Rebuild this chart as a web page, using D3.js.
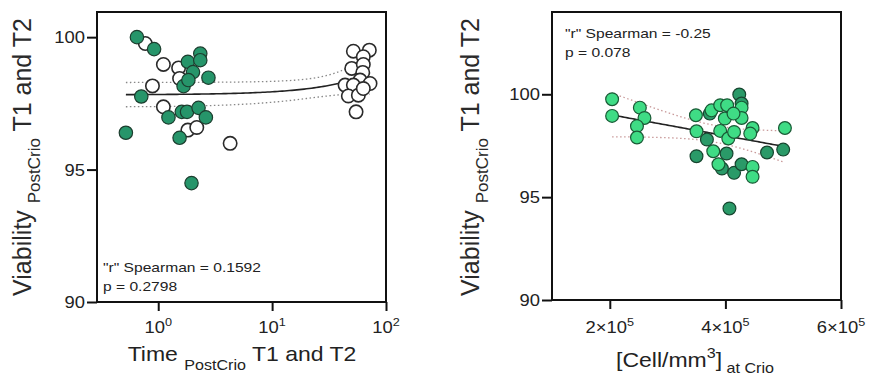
<!DOCTYPE html>
<html>
<head>
<meta charset="utf-8">
<script src="https://cdn.jsdelivr.net/npm/d3@7"></script>
<style>
  body { margin: 0; background: #fff; }
  svg { display: block; font-family: "Liberation Sans", Arial, sans-serif; }
</style>
</head>
<body>
<svg id="chart" width="871" height="380"></svg>
<script>
// ---- left panel: time post-crio (log) vs viability ----
const filledTime = [0.65, 0.92, 0.71, 0.52, 1.23, 1.54, 1.96, 1.82, 2.02, 1.67, 2.34, 2.34, 2.76, 1.61, 1.79, 2.26, 2.62, 1.84];
const filledViab = [100.0, 99.55, 97.76, 96.39, 96.97, 96.2, 94.49, 99.07, 98.68, 98.15, 99.38, 99.13, 98.47, 97.18, 97.18, 97.33, 96.97, 98.38];
const openTime = [0.77, 1.11, 0.89, 1.11, 1.51, 1.54, 1.82, 2.18, 4.28,
  51.7, 71.4, 63.2, 50.0, 63.2, 62.5, 59.2, 72.4, 43.7, 51.7, 46.7, 57.2, 63.2, 54.6];
const openViab = [99.76, 98.97, 98.16, 97.37, 98.84, 98.44, 96.49, 96.59, 95.99,
  99.47, 99.51, 99.26, 98.82, 98.97, 98.67, 98.38, 98.25, 98.19, 98.19, 97.78, 97.81, 98.06, 97.18];

// ---- right panel: cells/mm3 at crio vs viability ----
const lightCells = [2.04e5, 2.04e5, 2.52e5, 2.6e5, 2.47e5, 2.47e5, 3.49e5, 3.5e5, 3.79e5, 3.76e5, 3.91e5, 4.03e5,
  3.91e5, 3.99e5, 3.88e5, 4.05e5, 4.28e5, 4.28e5, 4.15e5, 4.47e5, 4.47e5, 4.47e5, 5.03e5, 4.43e5, 4.14e5];
const lightViab = [99.76, 98.95, 99.35, 98.85, 98.45, 97.9, 98.98, 98.2, 97.23, 99.22, 99.47, 99.47,
  98.22, 98.82, 96.6, 97.85, 99.35, 98.85, 98.17, 98.36, 96.47, 95.99, 98.36, 98.09, 99.06];
const darkCells = [3.5e5, 3.68e5, 3.94e5, 4.02e5, 4.07e5, 4.24e5, 4.28e5, 4.15e5, 4.28e5, 4.72e5, 5.0e5, 3.73e5];
const darkViab = [96.99, 97.8, 96.39, 97.12, 94.45, 99.99, 99.55, 96.18, 96.6, 97.17, 97.31, 99.06];

const yTicks = [90, 95, 100];
const timeTicks = [1, 10, 100];
const timeTickExp = ["0", "1", "2"];
const cellTicks = [2e5, 4e5, 6e5];
const cellTickMant = ["2", "4", "6"];
const statsLeft = ['"r" Spearman = 0.1592', "p = 0.2798"];
const statsRight = ['"r" Spearman = -0.25', "p = 0.078"];

const tCrit = 2.02;
const svg = d3.select("#chart");

function linFit(xs, ys) {
  const n = xs.length, mx = d3.mean(xs), my = d3.mean(ys);
  let sxx = 0, sxy = 0;
  xs.forEach((x, i) => { sxx += (x - mx) ** 2; sxy += (x - mx) * (ys[i] - my); });
  const b = sxy / sxx, a = my - b * mx;
  let sse = 0;
  xs.forEach((x, i) => { sse += (ys[i] - a - b * x) ** 2; });
  const s = Math.sqrt(sse / (n - 2));
  return {
    f: x => a + b * x,
    half: x => tCrit * s * Math.sqrt(1 / n + (x - mx) ** 2 / sxx)
  };
}

function hText(g, x, y, anchor, size, sx) {
  return g.append("text")
    .attr("transform", `translate(${x},${y}) scale(${sx},1)`)
    .attr("text-anchor", anchor)
    .attr("font-size", size)
    .attr("fill", "#222");
}

function panel(opt) {
  const g = svg.append("g");
  const x = opt.x, y = opt.y;
  const [x0, x1] = x.range(), [y0, y1] = y.range();

  // ticks
  g.append("g").attr("transform", `translate(${x0},0)`)
    .call(d3.axisLeft(y).tickValues(yTicks).tickSize(10).tickFormat(""))
    .call(a => a.select(".domain").remove())
    .selectAll("line").attr("stroke", "#111").attr("stroke-width", 2);
  g.append("g").attr("transform", `translate(0,${y0})`)
    .call(d3.axisBottom(x).tickValues(opt.xTicks).tickSize(9).tickFormat(""))
    .call(a => a.select(".domain").remove())
    .selectAll("line").attr("stroke", "#111").attr("stroke-width", 2);

  // frame
  g.append("rect").attr("x", x0).attr("y", y1)
    .attr("width", x1 - x0).attr("height", y0 - y1)
    .attr("fill", "none").attr("stroke", "#111").attr("stroke-width", 2);

  // y tick labels
  yTicks.forEach(v => {
    hText(g, x0 - 12, y(v) + 6, "end", 16, 1.15).text(v);
  });
  // x tick labels
  opt.xTicks.forEach((v, i) => {
    const t = hText(g, x(v), 333, "middle", 16, 1.15);
    t.append("tspan").text(opt.mant[i]);
    t.append("tspan").attr("font-size", 11).attr("dy", -7).text(opt.exp[i]);
  });

  // y title
  const yt = g.append("text")
    .attr("transform", `translate(${opt.yTitleX},157) rotate(-90)`)
    .attr("text-anchor", "middle").attr("fill", "#2a2a2a").attr("font-size", 25);
  yt.append("tspan").text("Viability ");
  yt.append("tspan").attr("font-size", 17).attr("dy", 9).text("PostCrio");
  yt.append("tspan").attr("dy", -9).text(" T1 and T2");

  // stats
  opt.stats.forEach((s, i) => {
    hText(g, opt.statX, opt.statY + i * 19, "start", 13, 1.2).text(s);
  });

  // regression + 95% band
  const fit = linFit(opt.fitX, opt.fitY);
  const [lo, hi] = d3.extent(opt.fitX);
  const xs = opt.log
    ? d3.range(0, 101).map(i => lo * Math.pow(hi / lo, i / 100))
    : d3.range(0, 101).map(i => lo + (hi - lo) * i / 100);
  const line = d3.line().x(d => x(d[0])).y(d => y(d[1]));
  g.append("path").attr("d", line(xs.map(v => [v, fit.f(v) + fit.half(v)])))
    .attr("fill", "none").attr("stroke", opt.bandColor).attr("stroke-width", 1.3)
    .attr("stroke-dasharray", "1.5,2.5");
  g.append("path").attr("d", line(xs.map(v => [v, fit.f(v) - fit.half(v)])))
    .attr("fill", "none").attr("stroke", opt.bandColor).attr("stroke-width", 1.3)
    .attr("stroke-dasharray", "1.5,2.5");
  g.append("path").attr("d", line(xs.map(v => [v, fit.f(v)])))
    .attr("fill", "none").attr("stroke", "#222").attr("stroke-width", 1.6);

  // points
  opt.series.forEach(s => {
    g.append("g").selectAll("circle")
      .data(s.xs.map((v, i) => [v, s.ys[i]]))
      .join("circle")
      .attr("cx", d => x(d[0])).attr("cy", d => y(d[1]))
      .attr("r", opt.r)
      .attr("fill", s.fill).attr("stroke", s.stroke).attr("stroke-width", s.sw);
  });
  return g;
}

// left panel
const xTime = d3.scaleLog().domain([0.29, 100]).range([97, 386]);
const yLeft = d3.scaleLinear().domain([90, 100.95]).range([302, 12]);
panel({
  x: xTime, y: yLeft, xTicks: timeTicks, mant: ["10", "10", "10"], exp: timeTickExp,
  yTitleX: 31, stats: statsLeft, statX: 103, statY: 272, log: true,
  fitX: filledTime.concat(openTime), fitY: filledViab.concat(openViab),
  bandColor: "#888", r: 6.7,
  series: [
    { xs: openTime, ys: openViab, fill: "#fff", stroke: "#2a2a2a", sw: 1.6 },
    { xs: filledTime, ys: filledViab, fill: "#26956a", stroke: "#1c3d2e", sw: 1.2 }
  ]
});
// x title left
const xtL = hText(svg, 242, 361, "middle", 20, 1.15);
xtL.append("tspan").text("Time ");
xtL.append("tspan").attr("font-size", 14).attr("dy", 9).text("PostCrio");
xtL.append("tspan").attr("dy", -9).text(" T1 and T2");

// right panel
const xCell = d3.scaleLinear().domain([1e5, 6e5]).range([552, 841]);
const yRight = d3.scaleLinear().domain([90, 104]).range([300, 12]);
panel({
  x: xCell, y: yRight, xTicks: cellTicks, mant: cellTickMant.map(m => m + "×10"), exp: ["5", "5", "5"],
  yTitleX: 479, stats: statsRight, statX: 565, statY: 38, log: false,
  fitX: lightCells.concat(darkCells), fitY: lightViab.concat(darkViab),
  bandColor: "#c99a9a", r: 6.4,
  series: [
    { xs: darkCells, ys: darkViab, fill: "#2a9a68", stroke: "#17452f", sw: 1.2 },
    { xs: lightCells, ys: lightViab, fill: "#3fdc85", stroke: "#1a5a36", sw: 1.2 }
  ]
});
const xtR = hText(svg, 695, 367, "middle", 20, 1.15);
xtR.append("tspan").text("[Cell/mm");
xtR.append("tspan").attr("font-size", 14).attr("dy", -9).text("3");
xtR.append("tspan").attr("dy", 9).text("]");
xtR.append("tspan").attr("font-size", 14).attr("dy", 6).text(" at Crio");
</script>
</body>
</html>
